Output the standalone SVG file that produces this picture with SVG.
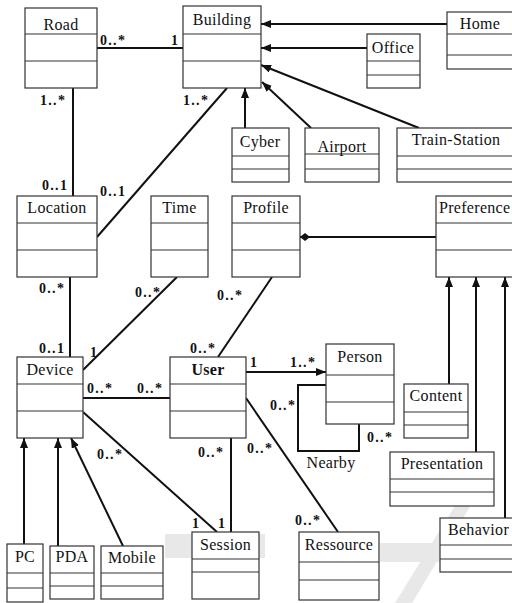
<svg xmlns="http://www.w3.org/2000/svg" width="512" height="603" viewBox="0 0 512 603">
<style>
.box{fill:#fff;stroke:#333;stroke-width:1.2}
.div{stroke:#333;stroke-width:1.2}
.name{font-family:"Liberation Serif","Liberation Sans",sans-serif;font-size:16px;letter-spacing:0.3px;fill:#111;text-anchor:middle}
.bold{font-weight:bold}
.m{font-family:"Liberation Serif","Liberation Sans",sans-serif;font-size:14px;font-weight:bold;letter-spacing:1.3px;fill:#111}
.ln{stroke:#111;stroke-width:2;fill:none}
.wm{fill:#e8e8e8}
</style>
<defs>
<marker id="ah" markerUnits="userSpaceOnUse" markerWidth="10" markerHeight="8" refX="10" refY="4" orient="auto">
<path d="M0,0 L10,4 L0,8 z" fill="#111"/>
</marker>
<marker id="dia" markerUnits="userSpaceOnUse" markerWidth="12" markerHeight="8" refX="0" refY="4" orient="auto">
<path d="M0,4 L5,0 L10,4 L5,8 z" fill="#111"/>
</marker>
</defs>
<rect width="512" height="603" fill="#fff"/>
<g id="watermark">
<rect class="wm" x="165" y="534" width="100" height="24"/>
<rect class="wm" x="380" y="543" width="60" height="19"/>
<polygon class="wm" points="395,603 412,603 492,470 477,470"/>
</g>
<g id="connectors">
<line class="ln" x1="97" y1="48" x2="183" y2="48"/>
<line class="ln" x1="73" y1="88" x2="73" y2="196"/>
<line class="ln" x1="227" y1="88" x2="97" y2="237"/>
<line class="ln" x1="447" y1="24" x2="261" y2="24" marker-end="url(#ah)"/>
<line class="ln" x1="367" y1="48" x2="261" y2="48" marker-end="url(#ah)"/>
<line class="ln" x1="419" y1="128" x2="261" y2="65" marker-end="url(#ah)"/>
<line class="ln" x1="311" y1="128" x2="262" y2="82" marker-end="url(#ah)"/>
<line class="ln" x1="245" y1="128" x2="245" y2="88" marker-end="url(#ah)"/>
<line class="ln" x1="300" y1="237" x2="436" y2="237" marker-start="url(#dia)"/>
<line class="ln" x1="70" y1="277" x2="70" y2="357"/>
<line class="ln" x1="177" y1="277" x2="83" y2="370"/>
<line class="ln" x1="272" y1="277" x2="218" y2="357"/>
<line class="ln" x1="83" y1="398" x2="170" y2="398"/>
<line class="ln" x1="246" y1="372" x2="326" y2="372" marker-end="url(#ah)"/>
<polyline class="ln" stroke-width="2.5" points="326,385 298,385 298,451 359,451 359,424"/>
<line class="ln" x1="231" y1="438" x2="231" y2="532"/>
<line class="ln" x1="83" y1="412" x2="217" y2="532"/>
<line class="ln" x1="246" y1="398" x2="338" y2="532"/>
<line class="ln" x1="24" y1="544" x2="24" y2="438" marker-end="url(#ah)"/>
<line class="ln" x1="58" y1="546" x2="58" y2="438" marker-end="url(#ah)"/>
<line class="ln" x1="123" y1="546" x2="71" y2="438" marker-end="url(#ah)"/>
<line class="ln" x1="449" y1="384" x2="449" y2="277" marker-end="url(#ah)"/>
<line class="ln" x1="476" y1="452" x2="476" y2="277" marker-end="url(#ah)"/>
<line class="ln" x1="505" y1="518" x2="505" y2="277" marker-end="url(#ah)"/>
</g>
<g id="labels">
<text class="m" x="100" y="45">0..*</text>
<text class="m" x="171" y="45">1</text>
<text class="m" x="40" y="105">1..*</text>
<text class="m" x="183" y="105">1..*</text>
<text class="m" x="42" y="190">0..1</text>
<text class="m" x="100" y="196">0..1</text>
<text class="m" x="39" y="293">0..*</text>
<text class="m" x="39" y="353">0..1</text>
<text class="m" x="135" y="297">0..*</text>
<text class="m" x="90" y="357">1</text>
<text class="m" x="217" y="300">0..*</text>
<text class="m" x="190" y="353">0..*</text>
<text class="m" x="87" y="393">0..*</text>
<text class="m" x="137" y="393">0..*</text>
<text class="m" x="250" y="367">1</text>
<text class="m" x="290" y="367">1..*</text>
<text class="m" x="270" y="410">0..*</text>
<text class="m" x="367" y="442">0..*</text>
<text class="name" x="331" y="468">Nearby</text>
<text class="m" x="198" y="457">0..*</text>
<text class="m" x="247" y="453">0..*</text>
<text class="m" x="97" y="459">0..*</text>
<text class="m" x="192" y="528">1</text>
<text class="m" x="218" y="528">1</text>
<text class="m" x="295" y="525">0..*</text>
</g>
<g id="nodes">
<g id="Road"><rect class="box" x="25" y="8" width="72" height="80"/><line class="div" x1="25" y1="34" x2="97" y2="34"/><line class="div" x1="25" y1="61" x2="97" y2="61"/><text class="name" x="61" y="30">Road</text></g>
<g id="Building"><rect class="box" x="183" y="6" width="78" height="82"/><line class="div" x1="183" y1="34" x2="261" y2="34"/><line class="div" x1="183" y1="61" x2="261" y2="61"/><text class="name" x="222" y="25">Building</text></g>
<g id="Home"><rect class="box" x="447" y="12" width="68" height="57"/><line class="div" x1="447" y1="34" x2="515" y2="34"/><line class="div" x1="447" y1="55" x2="515" y2="55"/><text class="name" x="480" y="29">Home</text></g>
<g id="Office"><rect class="box" x="367" y="34" width="53" height="54"/><line class="div" x1="367" y1="61" x2="420" y2="61"/><line class="div" x1="367" y1="75" x2="420" y2="75"/><text class="name" x="393" y="53">Office</text></g>
<g id="Cyber"><rect class="box" x="232" y="128" width="57" height="54"/><line class="div" x1="232" y1="156" x2="289" y2="156"/><line class="div" x1="232" y1="169" x2="289" y2="169"/><text class="name" x="260" y="147">Cyber</text></g>
<g id="Airport"><rect class="box" x="305" y="128" width="74" height="54"/><line class="div" x1="305" y1="154" x2="379" y2="154"/><line class="div" x1="305" y1="169" x2="379" y2="169"/><text class="name" x="342" y="152">Airport</text></g>
<g id="TrainStation"><rect class="box" x="397" y="128" width="118" height="54"/><line class="div" x1="397" y1="156" x2="515" y2="156"/><line class="div" x1="397" y1="169" x2="515" y2="169"/><text class="name" x="456" y="145">Train-Station</text></g>
<g id="Location"><rect class="box" x="17" y="196" width="80" height="81"/><line class="div" x1="17" y1="223" x2="97" y2="223"/><line class="div" x1="17" y1="250" x2="97" y2="250"/><text class="name" x="57" y="213">Location</text></g>
<g id="Time"><rect class="box" x="151" y="196" width="57" height="81"/><line class="div" x1="151" y1="223" x2="208" y2="223"/><line class="div" x1="151" y1="250" x2="208" y2="250"/><text class="name" x="179.5" y="213">Time</text></g>
<g id="Profile"><rect class="box" x="232" y="196" width="68" height="81"/><line class="div" x1="232" y1="223" x2="300" y2="223"/><line class="div" x1="232" y1="250" x2="300" y2="250"/><text class="name" x="266" y="213">Profile</text></g>
<g id="Preference"><rect class="box" x="436" y="196" width="84" height="81"/><line class="div" x1="436" y1="223" x2="520" y2="223"/><line class="div" x1="436" y1="250" x2="520" y2="250"/><text class="name" x="439" y="213" style="text-anchor:start">Preference</text></g>
<g id="Device"><rect class="box" x="17" y="357" width="66" height="81"/><line class="div" x1="17" y1="384" x2="83" y2="384"/><line class="div" x1="17" y1="411" x2="83" y2="411"/><text class="name" x="50" y="375">Device</text></g>
<g id="User"><rect class="box" x="170" y="357" width="76" height="81"/><line class="div" x1="170" y1="384" x2="246" y2="384"/><line class="div" x1="170" y1="411" x2="246" y2="411"/><text class="name bold" x="208" y="375">User</text></g>
<g id="Person"><rect class="box" x="326" y="344" width="68" height="80"/><line class="div" x1="326" y1="375" x2="394" y2="375"/><line class="div" x1="326" y1="402" x2="394" y2="402"/><text class="name" x="360" y="362">Person</text></g>
<g id="Content"><rect class="box" x="404" y="384" width="64" height="54"/><line class="div" x1="404" y1="412" x2="468" y2="412"/><line class="div" x1="404" y1="425" x2="468" y2="425"/><text class="name" x="436" y="401">Content</text></g>
<g id="Presentation"><rect class="box" x="390" y="452" width="104" height="54"/><line class="div" x1="390" y1="479" x2="494" y2="479"/><line class="div" x1="390" y1="492" x2="494" y2="492"/><text class="name" x="442" y="469">Presentation</text></g>
<g id="Behavior"><rect class="box" x="440" y="518" width="80" height="54"/><line class="div" x1="440" y1="545" x2="520" y2="545"/><line class="div" x1="440" y1="559" x2="520" y2="559"/><text class="name" x="448" y="535" style="text-anchor:start">Behavior</text></g>
<g id="Session"><rect class="box" x="192" y="532" width="67" height="67"/><line class="div" x1="192" y1="559" x2="259" y2="559"/><line class="div" x1="192" y1="572" x2="259" y2="572"/><text class="name" x="225.5" y="550">Session</text></g>
<g id="Ressource"><rect class="box" x="299" y="532" width="80" height="68"/><line class="div" x1="299" y1="562" x2="379" y2="562"/><line class="div" x1="299" y1="580" x2="379" y2="580"/><text class="name" x="339" y="550">Ressource</text></g>
<g id="PC"><rect class="box" x="7" y="544" width="36" height="58"/><line class="div" x1="7" y1="573" x2="43" y2="573"/><line class="div" x1="7" y1="588" x2="43" y2="588"/><text class="name" x="25" y="562">PC</text></g>
<g id="PDA"><rect class="box" x="50" y="546" width="44" height="53"/><line class="div" x1="50" y1="573" x2="94" y2="573"/><line class="div" x1="50" y1="586" x2="94" y2="586"/><text class="name" x="72" y="562">PDA</text></g>
<g id="Mobile"><rect class="box" x="101" y="546" width="62" height="53"/><line class="div" x1="101" y1="573" x2="163" y2="573"/><line class="div" x1="101" y1="586" x2="163" y2="586"/><text class="name" x="132" y="563">Mobile</text></g>
</g>
</svg>
